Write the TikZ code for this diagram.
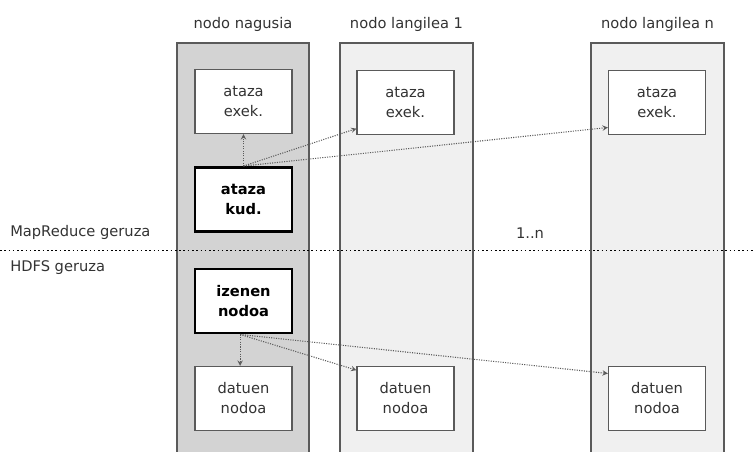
\documentclass[tikz,border=0pt]{standalone}
\usepackage{fontspec}
\setmainfont{DejaVu Sans}
\usepackage{tikz}
\usetikzlibrary{shapes,arrows}

\definecolor{txtgray}{RGB}{51,51,51}
\definecolor{linegray}{RGB}{90,90,90}
\definecolor{mastergray}{RGB}{211,211,211}
\definecolor{workergray}{RGB}{240,240,240}

\tikzset{
  colbox/.style={draw=linegray, line width=1.1pt},
  taskbox/.style={draw=linegray, fill=white, line width=0.9pt, minimum width=72.75pt, minimum height=48pt, align=center, inner sep=0pt, text=txtgray, font=\fontsize{11}{15}\selectfont},
  mainbox/.style={taskbox, draw=black, line width=2.2pt, text=black, font=\fontsize{11}{15}\selectfont\bfseries},
  lbl/.style={inner sep=0.75pt, text=txtgray, font=\fontsize{11}{13}\selectfont},
  flow/.style={draw=linegray, densely dotted, line width=0.8pt, -stealth}
}

\begin{document}
\begin{tikzpicture}[x=0.75pt,y=0.75pt,yscale=-1,xscale=1]
    \useasboundingbox (0,0) rectangle (753,452);

    %Columns
    \draw [colbox, fill=mastergray] (177,43) -- (177,460) -- (309,460) -- (309,43) -- cycle ;
    \draw [colbox, fill=workergray] (340,43) -- (340,460) -- (473,460) -- (473,43) -- cycle ;
    \draw [colbox, fill=workergray] (591,43) -- (591,460) -- (724,460) -- (724,43) -- cycle ;

    %Layer separator
    \draw [line width=1.2pt, dotted] (0,250.5) -- (753,250.5) ;

    % Text Node
    \node [lbl] (nagusia) at (243,24) {nodo nagusia};
    % Text Node
    \node [lbl] (langilea1) at (406.5,24) {nodo langilea 1};
    % Text Node
    \node [lbl] (langilean) at (657.5,24) {nodo langilea n};
    % Text Node
    \node [lbl, anchor=west] (mrlayer) at (9,232) {MapReduce geruza};
    % Text Node
    \node [lbl, anchor=west] (hdfslayer) at (9,268) {HDFS geruza};
    % Text Node
    \node [lbl] (count) at (530,233) {1..n};

    %Task boxes
    \node [taskbox] (exek0) at (243.5,101.5) {ataza\\exek.};
    \node [taskbox] (exek1) at (405.5,102.5) {ataza\\exek.};
    \node [taskbox] (exekn) at (657,102.5) {ataza\\exek.};
    \node [mainbox] (kud) at (243.5,199.5) {ataza\\kud.};

    %Data boxes
    \node [mainbox] (izenen) at (243.5,301) {izenen\\nodoa};
    \node [taskbox] (datuen0) at (243.5,398.5) {datuen\\nodoa};
    \node [taskbox] (datuen1) at (405.5,398.5) {datuen\\nodoa};
    \node [taskbox] (datuenn) at (657,398.5) {datuen\\nodoa};

    %Arrows
    \draw [flow] (kud.north) -- (exek0.south) ;
    \draw [flow] (kud.north) -- (exek1.208) ;
    \draw [flow] (kud.north) -- (exekn.207) ;
    \draw [flow] ([xshift=-2.5pt]izenen.south) -- ([xshift=-2.5pt]datuen0.north) ;
    \draw [flow] ([xshift=-2.5pt]izenen.south) -- (datuen1.150) ;
    \draw [flow] ([xshift=-2.5pt]izenen.south) -- (datuenn.153) ;

\end{tikzpicture}
\end{document}
